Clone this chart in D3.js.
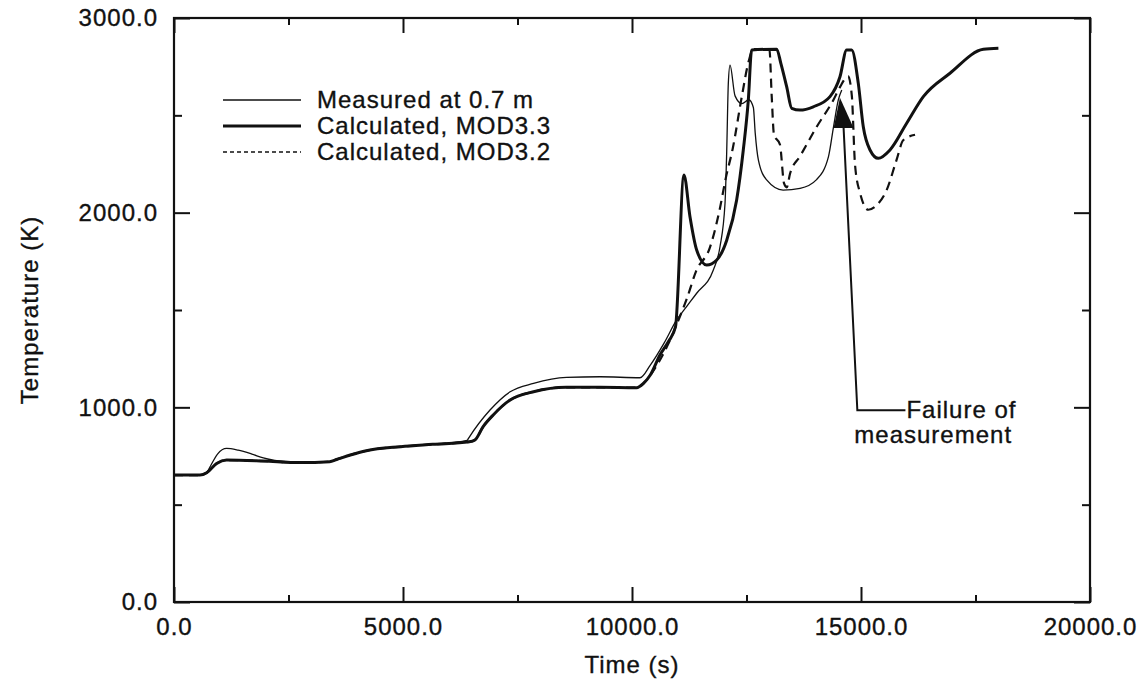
<!DOCTYPE html>
<html>
<head>
<meta charset="utf-8">
<script src="https://cdn.jsdelivr.net/npm/d3@7"></script>
<style>
  body { margin: 0; background: #fff; }
  text { font-family: Arial, "Liberation Sans", Helvetica, sans-serif; fill: #111; stroke: #111; stroke-width: 0.35px; }
</style>
</head>
<body>
<svg id="chart" width="1147" height="681"></svg>
<script>
// ---- data ----
const measuredTime = [0, 600, 714, 800, 950, 1150, 1400, 1700, 1950, 2200, 2750, 3400, 3550, 3850, 4200, 4950, 5650, 6400,
    6430, 6900, 7340, 7850, 8570, 9300, 10175, 10400, 10700, 10975, 11200, 11412, 11776, 11921, 12031, 12067, 12103, 12140,
    12250, 12400, 12550, 12650, 12690, 12760, 12940, 13300, 13670, 14030, 14290, 14400, 14505, 14580];
const measuredTemp = [652, 652, 664, 700, 760, 789, 780, 760, 740, 727, 716, 721, 732, 755, 777, 798, 810, 830,
    841, 986, 1080, 1123, 1154, 1157, 1152, 1217, 1330, 1449, 1520, 1586, 1705, 1825, 2048, 2305, 2664, 2758,
    2600, 2560, 2580, 2540, 2410, 2270, 2168, 2116, 2125, 2170, 2288, 2441, 2579, 2630];

const mod33Time = [0, 567, 714, 932, 1150, 1950, 2750, 3400, 3550, 3850, 4200, 4950, 5650, 6450, 6570, 6750, 6970, 7340,
    7850, 8570, 9300, 10100, 10250, 10400, 10610, 10800, 10950, 11135, 11266, 11412, 11630, 11850, 12070, 12285, 12430,
    12540, 12613, 13159, 13250, 13377, 13487, 13668, 13959, 14323, 14541, 14687, 14796, 14941, 15050, 15197, 15378,
    15633, 15997, 16361, 16943, 17671, 18000];
const mod33Temp = [652, 652, 664, 712, 729, 724, 716, 721, 732, 755, 777, 798, 810, 823, 832, 901, 961, 1038,
    1080, 1103, 1103, 1101, 1123, 1166, 1269, 1340, 1414, 2193, 1979, 1808, 1731, 1757, 1860, 2065, 2322,
    2579, 2836, 2840, 2767, 2647, 2536, 2527, 2544, 2596, 2698, 2836, 2836, 2664, 2441, 2322, 2279,
    2322, 2459, 2596, 2716, 2839, 2844];

const mod32Time = [0, 567, 714, 932, 1150, 1950, 2750, 3400, 3550, 3850, 4200, 4950, 5650, 6450, 6570, 6750, 6970, 7340,
    7850, 8570, 9300, 10100, 10250, 10500, 10800, 11000, 11200, 11400, 11700, 11900, 12050, 12200, 12400, 12550, 12650,
    13000, 13050, 13100, 13230, 13320, 13380, 13450, 13670, 14030, 14400, 14540, 14720, 14800, 14870, 14980, 15160,
    15350, 15560, 15775, 15925, 16180];
const mod32Temp = [652, 652, 664, 712, 729, 724, 716, 721, 732, 755, 777, 798, 810, 823, 832, 901, 961, 1038,
    1080, 1103, 1103, 1101, 1123, 1200, 1330, 1440, 1560, 1700, 1820, 2000, 2180, 2330, 2600, 2780, 2840,
    2840, 2600, 2400, 2350, 2150, 2130, 2200, 2290, 2440, 2580, 2645, 2700, 2600, 2245, 2100, 2015,
    2040, 2116, 2270, 2373, 2400];

const xMajorTicks = [0, 5000, 10000, 15000, 20000];
const xMinorTicks = [2500, 7500, 12500, 17500];
const yMajorTicks = [0, 1000, 2000, 3000];
const yMinorTicks = [500, 1500, 2500];

const legendLabels = ["Measured at 0.7 m", "Calculated, MOD3.3", "Calculated, MOD3.2"];

// failure annotation: arrow tip, arrow base, elbow, end of leader (time, temperature)
const failureTip = [14540, 2590];
const failureBase = [14620, 2435];
const failureElbow = [14920, 985];
const failureEnd = [15970, 985];

// ---- layout ----
const svg = d3.select("#chart");
const plotLeft = 174, plotRight = 1090, plotTop = 18, plotBottom = 602;

const x = d3.scaleLinear().domain([0, 20000]).range([plotLeft, plotRight]);
const y = d3.scaleLinear().domain([0, 3000]).range([plotBottom, plotTop]);
const fmt = d3.format(".1f");

const fontSize = 24;

function styleAxis(g) {
    g.selectAll(".domain").remove();
    g.selectAll(".tick line").attr("stroke", "#111").attr("stroke-width", 2);
    g.selectAll(".tick text")
        .attr("font-size", fontSize)
        .attr("letter-spacing", 1)
        .attr("fill", "#111");
}

// bottom
svg.append("g").attr("transform", `translate(0,${plotBottom})`)
    .call(d3.axisBottom(x).tickValues(xMajorTicks).tickFormat(fmt).tickSize(-15).tickPadding(16))
    .call(styleAxis);
svg.append("g").attr("transform", `translate(0,${plotBottom})`)
    .call(d3.axisBottom(x).tickValues(xMinorTicks).tickFormat("").tickSize(-7))
    .call(styleAxis);
// top
svg.append("g").attr("transform", `translate(0,${plotTop})`)
    .call(d3.axisTop(x).tickValues(xMajorTicks).tickFormat("").tickSize(-15))
    .call(styleAxis);
svg.append("g").attr("transform", `translate(0,${plotTop})`)
    .call(d3.axisTop(x).tickValues(xMinorTicks).tickFormat("").tickSize(-7))
    .call(styleAxis);
// left
svg.append("g").attr("transform", `translate(${plotLeft},0)`)
    .call(d3.axisLeft(y).tickValues(yMajorTicks).tickFormat(fmt).tickSize(-16).tickPadding(16))
    .call(styleAxis);
svg.append("g").attr("transform", `translate(${plotLeft},0)`)
    .call(d3.axisLeft(y).tickValues(yMinorTicks).tickFormat("").tickSize(-8))
    .call(styleAxis);
// right
svg.append("g").attr("transform", `translate(${plotRight},0)`)
    .call(d3.axisRight(y).tickValues(yMajorTicks).tickFormat("").tickSize(-16))
    .call(styleAxis);
svg.append("g").attr("transform", `translate(${plotRight},0)`)
    .call(d3.axisRight(y).tickValues(yMinorTicks).tickFormat("").tickSize(-8))
    .call(styleAxis);

// frame
svg.append("rect")
    .attr("x", plotLeft).attr("y", plotTop)
    .attr("width", plotRight - plotLeft).attr("height", plotBottom - plotTop)
    .attr("fill", "none").attr("stroke", "#111").attr("stroke-width", 2.2);

// axis titles
svg.append("text")
    .attr("x", (plotLeft + plotRight) / 2).attr("y", 673)
    .attr("text-anchor", "middle")
    .attr("font-size", fontSize).attr("letter-spacing", 1)
    .text("Time (s)");
svg.append("text")
    .attr("transform", `translate(38,${(plotTop + plotBottom) / 2}) rotate(-90)`)
    .attr("text-anchor", "middle")
    .attr("font-size", fontSize).attr("letter-spacing", 1)
    .text("Temperature (K)");

// ---- curves ----
const line = d3.line()
    .x(d => x(d[0]))
    .y(d => y(d[1]))
    .curve(d3.curveMonotoneX);

const series = [
    {name: legendLabels[0], pts: d3.zip(measuredTime, measuredTemp), width: 1.3, dash: null},
    {name: legendLabels[1], pts: d3.zip(mod33Time, mod33Temp), width: 3, dash: null},
    {name: legendLabels[2], pts: d3.zip(mod32Time, mod32Temp), width: 2.2, dash: "9,6"}
];

svg.selectAll(".curve")
    .data(series)
    .join("path")
    .attr("class", "curve")
    .attr("d", s => line(s.pts))
    .attr("fill", "none")
    .attr("stroke", "#111")
    .attr("stroke-width", s => s.width)
    .attr("stroke-dasharray", s => s.dash)
    .attr("stroke-linejoin", "round");

// ---- legend ----
const legendRows = [100, 126, 152];
const legend = svg.selectAll(".legendItem")
    .data(series)
    .join("g")
    .attr("class", "legendItem")
    .attr("transform", (s, i) => `translate(223,${legendRows[i]})`);

legend.append("line")
    .attr("x1", 0).attr("x2", 78)
    .attr("stroke", "#111")
    .attr("stroke-width", (s, i) => i === 2 ? 1.6 : s.width)
    .attr("stroke-dasharray", (s, i) => i === 2 ? "4,3" : null);

legend.append("text")
    .attr("x", 94).attr("dy", "0.35em")
    .attr("font-size", fontSize).attr("letter-spacing", 1)
    .text(s => s.name);

// ---- failure annotation ----
const tip = [x(failureTip[0]), y(failureTip[1])];
const base = [x(failureBase[0]), y(failureBase[1])];
svg.append("path")
    .attr("d", `M${tip[0]},${tip[1]} L${base[0] - 10},${base[1]} L${base[0] + 10},${base[1]} Z`)
    .attr("fill", "#111");
svg.append("polyline")
    .attr("points", [base, [x(failureElbow[0]), y(failureElbow[1])], [x(failureEnd[0]), y(failureEnd[1])]]
        .map(p => p.join(",")).join(" "))
    .attr("fill", "none").attr("stroke", "#111").attr("stroke-width", 2);

svg.append("text")
    .attr("x", x(failureEnd[0]) + 1).attr("y", y(failureEnd[1]) + 8)
    .attr("font-size", fontSize).attr("letter-spacing", 1)
    .text("Failure of");
svg.append("text")
    .attr("x", x(failureElbow[0]) - 3).attr("y", y(failureElbow[1]) + 33)
    .attr("font-size", fontSize).attr("letter-spacing", 1)
    .text("measurement");
</script>
</body>
</html>
